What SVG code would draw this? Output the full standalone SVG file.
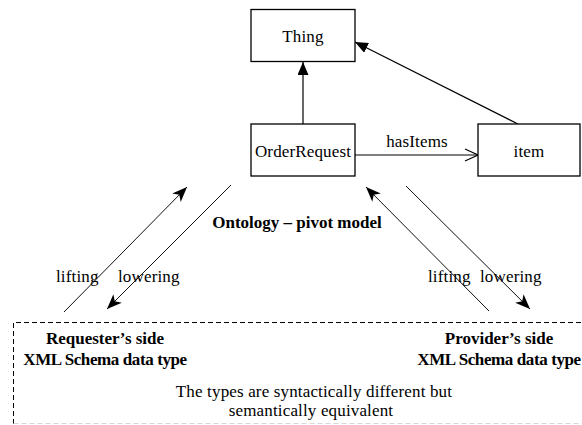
<svg xmlns="http://www.w3.org/2000/svg" width="582" height="425" viewBox="0 0 582 425" font-family="'Liberation Serif', 'DejaVu Serif', serif">
<style>
  text { font-family: "Liberation Serif", "DejaVu Serif", serif; font-size: 17px; fill: #000; }
  .reg { letter-spacing: 0.15px; }
  .bold { font-weight: bold; }
  .tight { letter-spacing: -0.4px; }
  .box { fill: #fff; stroke: #000; stroke-width: 1.3; }
  .conn { stroke: #000; stroke-width: 1.2; fill: none; }
  .diag { stroke: #111; stroke-width: 1; fill: none; }
  .dash { stroke: #000; stroke-width: 1; fill: none; stroke-dasharray: 5 3; }
</style>
<defs>
  <marker id="tri" markerUnits="userSpaceOnUse" markerWidth="13" markerHeight="11" refX="13" refY="5.5" orient="auto">
    <path d="M0,0 L13,5.5 L0,11 z" fill="#000"/>
  </marker>
  <marker id="open" markerUnits="userSpaceOnUse" markerWidth="15" markerHeight="14" refX="14" refY="7" orient="auto">
    <path d="M1,1 L14,7 L1,13" fill="none" stroke="#000" stroke-width="1.1"/>
  </marker>
  <marker id="barb" markerUnits="userSpaceOnUse" markerWidth="15" markerHeight="12" refX="15" refY="6" orient="auto">
    <path d="M0,0 L15,6 L0,12 L4,6 z" fill="#000"/>
  </marker>
</defs>
<rect width="582" height="425" fill="#fff"/>

<g id="connectors">
  <line class="conn" x1="303" y1="124" x2="303" y2="62" marker-end="url(#tri)"/>
  <line class="conn" x1="518" y1="124" x2="355" y2="42" marker-end="url(#tri)"/>
  <line class="conn" x1="355" y1="155" x2="478" y2="155" marker-end="url(#open)"/>
  <text class="reg" x="417" y="147" text-anchor="middle">hasItems</text>
  <line class="diag" x1="64" y1="312" x2="187" y2="187" marker-end="url(#barb)"/>
  <line class="diag" x1="231" y1="185" x2="107" y2="309" marker-end="url(#barb)"/>
  <line class="diag" x1="489" y1="311" x2="366" y2="187" marker-end="url(#barb)"/>
  <line class="diag" x1="406" y1="186" x2="530" y2="309" marker-end="url(#barb)"/>
  <text class="reg" x="56" y="282">lifting</text>
  <text class="reg" x="118" y="282">lowering</text>
  <text class="reg" x="428" y="282">lifting</text>
  <text class="reg" x="480" y="282">lowering</text>
</g>

<g id="thing">
  <rect class="box" x="251" y="9.5" width="104" height="52"/>
  <text class="reg" x="303" y="42" text-anchor="middle">Thing</text>
</g>

<g id="orderRequest">
  <rect class="box" x="251" y="124" width="104" height="52"/>
  <text class="reg" x="303" y="157" text-anchor="middle">OrderRequest</text>
</g>

<g id="item">
  <rect class="box" x="478" y="124" width="102" height="52"/>
  <text class="reg" x="529" y="157" text-anchor="middle">item</text>
</g>

<g id="ontology-label">
  <text class="bold" x="297" y="228" text-anchor="middle">Ontology – pivot model</text>
</g>

<g id="xml-schema-area">
  <path class="dash" d="M13.5,424 L13.5,322.5 L590,322.5"/>
  <line x1="13.5" y1="423.5" x2="590" y2="423.5" stroke="#d8d8d8" stroke-width="1" stroke-dasharray="5 3"/>
  <text class="bold" x="105" y="344" text-anchor="middle">Requester’s side</text>
  <text class="bold tight" x="105" y="365" text-anchor="middle">XML Schema data type</text>
  <text class="bold" x="499" y="344" text-anchor="middle">Provider’s side</text>
  <text class="bold tight" x="499" y="365" text-anchor="middle">XML Schema data type</text>
  <text class="reg" x="314" y="397" text-anchor="middle">The types are syntactically different but</text>
  <text class="reg" x="311" y="416" text-anchor="middle">semantically equivalent</text>
</g>
</svg>
